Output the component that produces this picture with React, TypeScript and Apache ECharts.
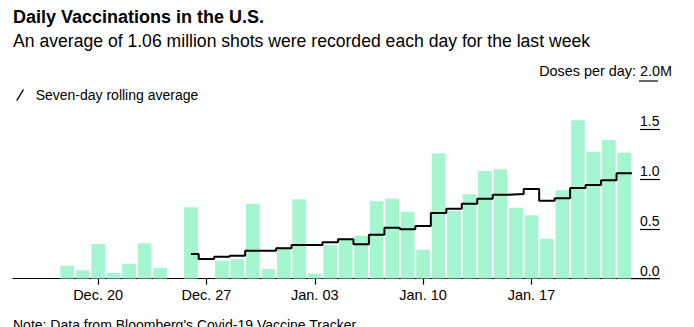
import React, { useEffect, useRef } from "react";
import * as echarts from "echarts";

// Days from Dec. 15 to Jan. 23
const dates: string[] = [
  "Dec. 15", "Dec. 16", "Dec. 17", "Dec. 18", "Dec. 19", "Dec. 20", "Dec. 21",
  "Dec. 22", "Dec. 23", "Dec. 24", "Dec. 25", "Dec. 26", "Dec. 27", "Dec. 28",
  "Dec. 29", "Dec. 30", "Dec. 31", "Jan. 01", "Jan. 02", "Jan. 03", "Jan. 04",
  "Jan. 05", "Jan. 06", "Jan. 07", "Jan. 08", "Jan. 09", "Jan. 10", "Jan. 11",
  "Jan. 12", "Jan. 13", "Jan. 14", "Jan. 15", "Jan. 16", "Jan. 17", "Jan. 18",
  "Jan. 19", "Jan. 20", "Jan. 21", "Jan. 22", "Jan. 23",
];

// Daily doses (millions)
const dailyDoses: (number | null)[] = [
  null, null, null, 0.13, 0.083, 0.348, 0.056,
  0.15, 0.355, 0.11, null, 0.717, null, 0.18,
  0.194, 0.753, 0.096, 0.32, 0.797, 0.046, 0.338,
  0.388, 0.431, 0.777, 0.803, 0.672, 0.29, 1.259,
  0.679, 0.847, 1.081, 1.098, 0.713, 0.636, 0.401,
  0.887, 1.591, 1.275, 1.393, 1.265,
];

// Seven-day rolling average (millions)
const rollingAvg: (number | null)[] = [
  null, null, null, null, null, null, null,
  null, null, null, null, 0.247, 0.196, 0.219,
  0.23, 0.28, 0.28, 0.305, 0.338, 0.338, 0.366,
  0.395, 0.345, 0.441, 0.512, 0.497, 0.529, 0.659,
  0.703, 0.753, 0.803, 0.843, 0.85, 0.9, 0.783,
  0.807, 0.91, 0.94, 0.988, 1.06,
];

const xTickLabels: string[] = ["Dec. 20", "Dec. 27", "Jan. 03", "Jan. 10", "Jan. 17"];
const yMax = 1.5;
const yStep = 0.5;

const FONT = "'Liberation Sans', Arial, sans-serif";

export default function App() {
  const ref = useRef<HTMLDivElement>(null);

  useEffect(() => {
    if (!ref.current) return;
    const chart = echarts.init(ref.current, undefined, { renderer: "svg" });

    const gridLeft = 13;
    const gridRight = 62;
    const gridTop = 129.35;
    const gridBottom = 48.4;
    const W = 694;
    const H = 327;
    const baseY = H - gridBottom;

    const tickIdx = xTickLabels.map((l) => dates.indexOf(l));
    const n = dates.length;

    // Step line held across each day's slot
    const lineData: [number, number][] = [];
    let first = true;
    let last: number | null = null;
    rollingAvg.forEach((v, i) => {
      if (v == null) return;
      lineData.push([first ? i : i - 0.5, v]);
      first = false;
      last = v;
    });
    if (last != null) lineData.push([n - 0.5, last]);

    chart.setOption({
      animation: false,
      textStyle: { fontFamily: FONT },
      grid: { left: gridLeft, right: gridRight, top: gridTop, bottom: gridBottom },
      legend: {
        left: 16,
        top: 88,
        padding: 0,
        itemWidth: 9,
        itemHeight: 11,
        icon: "path://M0,12 L1.7,12 L9,0 L7.3,0 Z",
        data: ["Seven-day rolling average"],
        textStyle: { fontSize: 14, color: "#000", fontFamily: FONT, padding: [0, 0, 0, 6] },
      },
      xAxis: [
        {
          type: "category",
          data: dates,
          boundaryGap: true,
          axisLine: { show: true, onZero: false, lineStyle: { color: "#000", width: 1.2 } },
          axisTick: {
            show: true,
            alignWithLabel: true,
            length: 6,
            interval: (i: number) => tickIdx.includes(i),
            lineStyle: { color: "#000", width: 1.2 },
          },
          axisLabel: {
            interval: (i: number) => tickIdx.includes(i),
            fontSize: 14.5,
            color: "#000",
            margin: 9,
            fontFamily: FONT,
          },
          splitLine: { show: false },
        },
        {
          type: "value",
          min: -0.5,
          max: n - 0.5,
          show: false,
          axisLine: { onZero: false },
        },
      ],
      yAxis: {
        type: "value",
        position: "right",
        offset: 8,
        min: 0,
        max: yMax,
        interval: yStep,
        axisLine: { show: false, onZero: false },
        axisTick: {
          show: true,
          inside: false,
          length: 20,
          lineStyle: { color: "#000", width: 1.2 },
        },
        axisLabel: {
          formatter: (v: number) => v.toFixed(1),
          fontSize: 14,
          color: "#000",
          margin: 0,
          verticalAlign: "bottom",
          align: "left",
          padding: [0, 0, 1, 0],
          fontFamily: FONT,
        },
        splitLine: { show: false },
      },
      series: [
        {
          name: "Daily doses",
          type: "bar",
          data: dailyDoses,
          barCategoryGap: "11%",
          clip: false,
          itemStyle: { color: "#a6f5d1" },
          xAxisIndex: 0,
        },
        {
          name: "Seven-day rolling average",
          type: "line",
          xAxisIndex: 1,
          data: lineData,
          step: "end",
          showSymbol: false,
          symbol: "none",
          color: "#000",
          lineStyle: { color: "#000", width: 2 },
          itemStyle: { color: "#000" },
        },
      ],
      graphic: [
        {
          type: "text",
          left: 13,
          top: 8,
          style: {
            text: "Daily Vaccinations in the U.S.",
            fontSize: 18,
            fontWeight: "bold",
            fill: "#000",
            fontFamily: FONT,
          },
        },
        {
          type: "text",
          left: 13,
          top: 32,
          style: {
            text: "An average of 1.06 million shots were recorded each day for the last week",
            fontSize: 17.6,
            fill: "#000",
            fontFamily: FONT,
          },
        },
        {
          type: "text",
          right: W - 672,
          top: 64,
          style: {
            text: "Doses per day: 2.0M",
            fontSize: 14.4,
            fill: "#000",
            fontFamily: FONT,
          },
        },
        {
          type: "line",
          shape: { x1: 639, y1: 81, x2: 658, y2: 81 },
          style: { stroke: "#000", lineWidth: 1.2 },
        },
        {
          type: "line",
          shape: { x1: W - gridRight - 1, y1: baseY, x2: 660, y2: baseY },
          style: { stroke: "#000", lineWidth: 1.2 },
        },
        {
          type: "text",
          left: 13,
          top: 318,
          style: {
            text: "Note: Data from Bloomberg's Covid-19 Vaccine Tracker",
            fontSize: 14,
            fill: "#000",
            fontFamily: FONT,
          },
        },
      ],
    });

    return () => chart.dispose();
  }, []);

  return (
    <div
      ref={ref}
      style={{ position: "fixed", left: 0, top: 0, width: 694, height: 327, background: "#fff" }}
    />
  );
}
